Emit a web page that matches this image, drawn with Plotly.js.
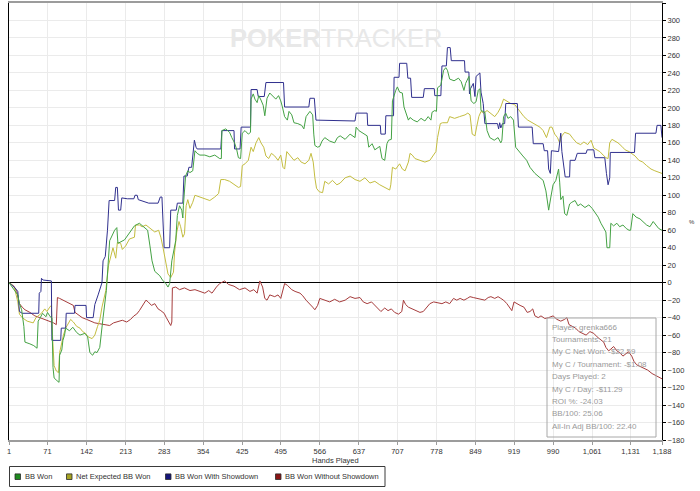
<!DOCTYPE html>
<html>
<head>
<meta charset="utf-8">
<script src="https://cdn.plot.ly/plotly-3.0.1.min.js"></script>
<style>
  html, body { margin: 0; padding: 0; background: #ffffff; }
  #chart { width: 700px; height: 491px; }
</style>
</head>
<body>
<div id="chart"></div>
<script>
// Hands played axis ticks
const handTicks = [1, 71, 142, 213, 283, 354, 425, 495, 566, 637, 707, 778, 849, 919, 990, 1061, 1131, 1188];
const handTickLabels = ['1', '71', '142', '213', '283', '354', '425', '495', '566', '637', '707', '778', '849', '919', '990', '1,061', '1,131', '1,188'];

// BB Won
const bbWonHands = [1, 6, 11, 17, 20, 24, 28, 30, 39, 46, 52, 54, 57, 62, 68, 71, 75, 79, 81, 83, 88, 92, 93, 97, 99, 102, 104, 111, 117, 124, 130, 139, 144, 148, 153, 157, 161, 166, 172, 178, 184, 189, 193, 197, 199, 211, 220, 229, 238, 248, 253, 257, 261, 266, 275, 280, 286, 290, 293, 297, 300, 304, 307, 311, 315, 317, 318, 322, 326, 330, 335, 339, 343, 348, 357, 366, 375, 384, 387, 388, 395, 402, 406, 411, 415, 418, 422, 425, 430, 436, 440, 441, 445, 448, 452, 455, 459, 463, 466, 468, 470, 475, 480, 486, 491, 495, 498, 502, 507, 510, 515, 519, 526, 533, 537, 541, 548, 553, 555, 557, 562, 566, 570, 575, 584, 593, 598, 603, 612, 621, 630, 632, 637, 646, 652, 655, 661, 666, 675, 679, 684, 688, 691, 696, 698, 704, 707, 711, 716, 719, 723, 727, 730, 736, 743, 750, 757, 763, 768, 770, 775, 778, 780, 786, 791, 795, 798, 802, 810, 818, 823, 828, 831, 837, 841, 846, 850, 854, 857, 859, 866, 870, 875, 883, 890, 895, 897, 900, 904, 908, 913, 918, 922, 928, 935, 942, 948, 957, 966, 972, 977, 980, 982, 986, 990, 995, 1000, 1002, 1004, 1008, 1011, 1015, 1020, 1024, 1030, 1035, 1040, 1048, 1055, 1061, 1066, 1072, 1077, 1082, 1086, 1088, 1093, 1095, 1100, 1106, 1111, 1117, 1123, 1128, 1131, 1135, 1141, 1148, 1153, 1160, 1166, 1172, 1177, 1182, 1188];
const bbWonValues = [0, -4, -8, -14, -24, -31, -50, -68, -70, -72, -75, -44, -41, -35, -39, -34, -38, -41, -97, -109, -112, -114, -83, -77, -66, -60, -52, -55, -51, -57, -60, -58, -62, -80, -83, -79, -80, -74, -40, -9, 48, 55, 60, 63, 45, 49, 57, 65, 68, 63, 60, 43, 25, 13, 8, 3, -1, -5, -1, 25, 37, 48, 77, 88, 83, 74, 88, 122, 128, 126, 128, 151, 148, 146, 146, 144, 146, 142, 142, 174, 176, 172, 166, 160, 152, 143, 142, 171, 174, 170, 172, 210, 216, 210, 206, 214, 209, 203, 191, 203, 211, 217, 214, 210, 214, 208, 201, 190, 186, 196, 192, 183, 182, 180, 176, 190, 196, 192, 170, 157, 155, 156, 162, 166, 162, 160, 166, 168, 164, 170, 166, 178, 174, 170, 168, 155, 159, 152, 156, 142, 140, 159, 163, 164, 208, 220, 224, 218, 217, 201, 194, 186, 189, 186, 184, 188, 185, 190, 186, 195, 197, 196, 223, 226, 243, 246, 243, 233, 231, 234, 230, 220, 228, 236, 208, 205, 207, 220, 222, 197, 195, 174, 166, 163, 166, 160, 163, 190, 194, 188, 190, 186, 155, 150, 145, 140, 132, 125, 120, 117, 105, 94, 83, 98, 112, 117, 130, 115, 95, 99, 79, 77, 90, 92, 94, 88, 90, 86, 89, 85, 80, 75, 68, 62, 58, 40, 40, 68, 65, 68, 64, 66, 62, 60, 60, 79, 75, 73, 70, 66, 64, 70, 66, 62, 60];

// Net Expected BB Won
const netExpHands = [1, 6, 11, 17, 20, 25, 34, 45, 50, 55, 60, 66, 70, 75, 78, 80, 83, 87, 91, 93, 96, 100, 104, 108, 113, 118, 124, 130, 135, 140, 145, 152, 157, 162, 166, 170, 177, 182, 186, 190, 195, 198, 204, 207, 213, 220, 229, 231, 238, 243, 250, 257, 266, 273, 277, 281, 286, 290, 295, 300, 302, 306, 310, 313, 317, 320, 323, 326, 330, 335, 339, 348, 357, 366, 375, 382, 386, 393, 402, 411, 418, 422, 425, 430, 436, 441, 445, 450, 455, 459, 464, 468, 473, 478, 484, 490, 495, 499, 502, 506, 511, 519, 526, 532, 539, 546, 550, 554, 557, 560, 565, 571, 575, 582, 589, 597, 603, 612, 621, 630, 639, 648, 657, 666, 675, 681, 688, 693, 695, 698, 704, 711, 716, 721, 727, 730, 734, 739, 748, 757, 766, 772, 777, 780, 785, 789, 798, 802, 811, 820, 830, 835, 839, 843, 848, 851, 855, 859, 864, 870, 877, 884, 890, 895, 900, 906, 913, 920, 925, 930, 937, 944, 952, 959, 966, 972, 978, 984, 988, 993, 998, 1002, 1006, 1011, 1020, 1026, 1033, 1040, 1046, 1053, 1059, 1064, 1070, 1075, 1081, 1086, 1090, 1093, 1097, 1102, 1108, 1115, 1121, 1128, 1133, 1139, 1146, 1153, 1160, 1168, 1175, 1182, 1188];
const netExpValues = [0, -2, -6, -22, -36, -40, -44, -46, -40, -38, -35, -30, -33, -28, -26, -60, -95, -101, -103, -80, -70, -60, -52, -48, -42, -45, -50, -52, -56, -58, -62, -64, -60, -50, -43, -28, -9, 20, 30, 40, 28, 46, 45, 38, 42, 50, 52, 66, 66, 64, 66, 62, 58, 60, 52, 40, 25, 10, 6, 12, 35, 58, 70, 64, 52, 56, 88, 95, 85, 92, 100, 98, 96, 94, 98, 102, 118, 118, 116, 112, 109, 110, 134, 136, 140, 155, 150, 160, 166, 160, 155, 145, 142, 148, 145, 140, 146, 132, 130, 150, 146, 140, 143, 138, 136, 140, 148, 138, 120, 108, 104, 103, 116, 113, 117, 112, 114, 120, 122, 118, 116, 120, 114, 116, 112, 110, 108, 106, 112, 132, 130, 136, 130, 128, 138, 148, 146, 142, 140, 138, 140, 146, 150, 166, 182, 183, 183, 190, 188, 190, 192, 194, 192, 170, 168, 178, 190, 196, 194, 197, 193, 190, 195, 201, 210, 208, 205, 204, 200, 195, 190, 186, 183, 180, 178, 174, 166, 178, 178, 170, 166, 160, 168, 172, 170, 165, 160, 158, 161, 158, 163, 154, 152, 150, 146, 143, 142, 160, 164, 162, 160, 156, 152, 150, 148, 145, 140, 138, 134, 130, 128, 126, 125];

// BB Won With Showdown
const showdownHands = [1, 7, 12, 17, 20, 25, 55, 56, 59, 60, 63, 78, 79, 95, 96, 104, 105, 120, 121, 141, 142, 154, 157, 163, 167, 170, 172, 176, 180, 183, 193, 195, 198, 200, 204, 206, 216, 228, 230, 234, 236, 255, 272, 276, 279, 281, 283, 293, 295, 305, 307, 317, 319, 325, 328, 333, 338, 341, 343, 386, 388, 410, 411, 421, 423, 440, 441, 452, 454, 465, 468, 500, 502, 546, 548, 556, 559, 630, 632, 652, 653, 676, 677, 685, 686, 700, 701, 710, 711, 724, 726, 731, 733, 754, 756, 774, 775, 786, 788, 796, 798, 803, 805, 829, 830, 837, 838, 840, 845, 848, 850, 857, 859, 863, 866, 889, 891, 893, 895, 898, 902, 904, 925, 927, 952, 954, 972, 974, 980, 982, 985, 987, 1000, 1004, 1006, 1012, 1020, 1021, 1030, 1034, 1050, 1052, 1064, 1066, 1084, 1087, 1090, 1093, 1094, 1138, 1140, 1177, 1179, 1186, 1188];
const showdownValues = [0, -3, -6, -10, -33, -35, -35, -12, -10, 5, 3, 2, -66, -66, -52, -52, -35, -35, -26, -26, -40, -40, -25, -14, -5, 0, 25, 30, 60, 94, 94, 109, 109, 83, 83, 97, 96, 96, 100, 100, 95, 91, 91, 98, 98, 60, 40, 40, 83, 83, 91, 91, 122, 122, 132, 132, 163, 155, 153, 153, 174, 174, 153, 153, 178, 178, 221, 221, 213, 213, 229, 229, 201, 201, 211, 211, 186, 185, 194, 194, 180, 180, 170, 170, 191, 191, 235, 235, 251, 251, 234, 234, 212, 212, 222, 222, 214, 214, 248, 248, 269, 269, 254, 254, 241, 241, 216, 222, 228, 213, 236, 240, 218, 205, 182, 182, 176, 183, 177, 182, 182, 205, 205, 178, 178, 159, 159, 151, 151, 130, 125, 151, 150, 171, 150, 121, 121, 140, 140, 148, 148, 152, 152, 143, 143, 125, 112, 120, 149, 149, 171, 171, 180, 180, 166];

// BB Won Without Showdown
const nonShowdownHands = [1, 5, 10, 15, 20, 25, 30, 39, 48, 57, 66, 75, 82, 87, 89, 93, 100, 104, 111, 118, 121, 127, 134, 142, 150, 157, 166, 175, 184, 191, 198, 207, 215, 222, 228, 233, 238, 245, 250, 254, 260, 266, 272, 277, 283, 287, 292, 295, 297, 298, 304, 311, 320, 330, 339, 348, 357, 364, 370, 378, 384, 393, 400, 410, 420, 430, 439, 446, 452, 457, 462, 466, 470, 475, 484, 490, 495, 502, 507, 515, 521, 530, 535, 541, 548, 553, 557, 562, 566, 575, 584, 593, 602, 612, 621, 630, 639, 645, 652, 660, 666, 671, 677, 684, 690, 696, 702, 709, 715, 718, 722, 727, 734, 741, 748, 754, 760, 766, 773, 780, 788, 795, 802, 809, 815, 821, 828, 834, 839, 845, 852, 859, 866, 872, 877, 884, 890, 895, 900, 906, 910, 915, 919, 924, 930, 937, 943, 948, 953, 957, 963, 968, 975, 982, 990, 997, 1004, 1011, 1015, 1019, 1024, 1031, 1037, 1044, 1050, 1057, 1064, 1070, 1077, 1082, 1086, 1091, 1095, 1100, 1106, 1111, 1117, 1122, 1127, 1133, 1137, 1142, 1148, 1155, 1162, 1170, 1177, 1183, 1188];
const nonShowdownValues = [0, -2, -4, -10, -24, -28, -31, -34, -38, -40, -42, -44, -46, -48, -17, -18, -20, -22, -24, -26, -34, -37, -40, -42, -44, -46, -47, -48, -49, -46, -45, -43, -45, -42, -38, -36, -32, -25, -20, -22, -26, -24, -30, -32, -35, -40, -46, -49, -45, -6, -5, -8, -6, -9, -8, -10, -12, -9, -12, -5, -1, 2, -2, -4, -8, -6, -10, -8, -12, 2, -5, -18, -20, -14, -16, -14, -18, -1, -3, -8, -10, -12, -15, -20, -24, -28, -31, -26, -18, -20, -22, -19, -22, -20, -16, -18, -17, -22, -24, -22, -26, -30, -33, -29, -32, -30, -34, -36, -33, -20, -25, -28, -30, -32, -34, -33, -28, -24, -22, -23, -24, -22, -24, -18, -20, -18, -20, -18, -16, -17, -18, -19, -20, -17, -16, -18, -16, -18, -20, -24, -28, -32, -22, -24, -26, -28, -34, -33, -30, -38, -40, -38, -41, -40, -38, -42, -44, -42, -40, -48, -50, -52, -56, -58, -60, -56, -58, -62, -66, -68, -74, -78, -76, -73, -78, -80, -84, -82, -79, -84, -90, -94, -96, -98, -100, -104, -106, -108, -110];

// Summary block
const infoLines = [
  'Player: grenka666',
  'Tournaments: 21',
  'My C Net Won: -$22.59',
  'My C / Tournament: -$1.08',
  'Days Played: 2',
  'My C / Day: -$11.29',
  'ROI %: -24.03',
  'BB/100: 25.06',
  'All-In Adj BB/100: 22.40'
];

const seriesNames = ['BB Won', 'Net Expected BB Won', 'BB Won With Showdown', 'BB Won Without Showdown'];
const lineColors = ['#44a244', '#c4bd40', '#30308e', '#a63c3c'];
const swatchColors = ['#1e8a1e', '#a6a323', '#14147a', '#8a1414'];
const seriesX = [bbWonHands, netExpHands, showdownHands, nonShowdownHands];
const seriesY = [bbWonValues, netExpValues, showdownValues, nonShowdownValues];

const FONT = 'Liberation Sans, Arial, sans-serif';
const traces = [];
// draw order: without showdown, net expected, with showdown, bb won on top
[3, 1, 2, 0].forEach(function (i) {
  traces.push({
    type: 'scatter', mode: 'lines', name: seriesNames[i],
    x: seriesX[i], y: seriesY[i],
    line: { color: lineColors[i], width: 1 },
    showlegend: false, hoverinfo: 'skip'
  });
});

// plot-area geometry (pixels)
const L = 9, R = 662, T = 3, B = 440;
const W = R - L, H = B - T;
const px = function (x) { return (x - L) / W; };
const py = function (y) { return (B - y) / H; };

const annotations = [
  { text: 'Hands Played', xref: 'paper', yref: 'paper', x: px(336), y: py(460), xanchor: 'center', yanchor: 'middle', showarrow: false, font: { family: FONT, size: 7.5, color: '#333333' } },
  { text: '%', xref: 'paper', yref: 'paper', x: px(692), y: py(222), xanchor: 'center', yanchor: 'middle', showarrow: false, font: { family: FONT, size: 6, color: '#333333' } },
  { text: '<b>POKER</b>TRACKER', xref: 'paper', yref: 'paper', x: px(337), y: py(38), xanchor: 'center', yanchor: 'middle', showarrow: false, font: { family: FONT, size: 25.5, color: '#e8e8e8' } }
];
infoLines.forEach(function (line, i) {
  annotations.push({
    text: line, xref: 'paper', yref: 'paper', x: px(550), y: py(327 + 12.4 * i),
    xanchor: 'left', yanchor: 'middle', showarrow: false,
    font: { family: FONT, size: 8, color: '#9a9a9a' }
  });
});

// legend row below the axis: swatch + label per series
const legendSwatchX = [15, 66.5, 165.5, 275.5];
const legendTextX = [23, 74, 173, 283];
const legendY = 476.7;
const shapes = [
  { type: 'rect', xref: 'paper', yref: 'paper', x0: px(547), x1: px(656), y0: py(437), y1: py(318), line: { color: '#a8a8a8', width: 1 }, fillcolor: 'rgba(0,0,0,0)', layer: 'above' },
  { type: 'rect', xref: 'paper', yref: 'paper', x0: px(9.5), x1: px(385), y0: py(486.5), y1: py(466.5), line: { color: '#3a3a3a', width: 1 }, fillcolor: 'rgba(0,0,0,0)' }
];
seriesNames.forEach(function (name, i) {
  shapes.push({
    type: 'rect', xref: 'paper', yref: 'paper',
    x0: px(legendSwatchX[i]), x1: px(legendSwatchX[i] + 5.5),
    y0: py(legendY + 2.8), y1: py(legendY - 2.8),
    line: { color: '#2a2a2a', width: 0.8 }, fillcolor: swatchColors[i]
  });
  annotations.push({
    text: name, xref: 'paper', yref: 'paper', x: px(legendTextX[i]), y: py(legendY),
    xanchor: 'left', yanchor: 'middle', showarrow: false,
    font: { family: FONT, size: 7.5, color: '#333333' }
  });
});

const layout = {
  width: 700, height: 491,
  margin: { l: L, r: 700 - R, t: T, b: 491 - B, pad: 0 },
  paper_bgcolor: '#ffffff', plot_bgcolor: '#ffffff',
  showlegend: false,
  xaxis: {
    range: [1, 1188], tickmode: 'array', tickvals: handTicks, ticktext: handTickLabels,
    showgrid: true, gridcolor: '#ebebeb', gridwidth: 1, zeroline: false,
    showline: true, linecolor: '#9c9c9c', linewidth: 2, mirror: true,
    ticks: 'outside', ticklen: 3, tickcolor: '#9c9c9c',
    tickfont: { family: FONT, size: 7.5, color: '#333333' }, automargin: false
  },
  yaxis: {
    side: 'right', range: [-180, 320], dtick: 20, tick0: 0,
    showgrid: true, gridcolor: '#ebebeb', gridwidth: 1,
    zeroline: true, zerolinecolor: '#000000', zerolinewidth: 1,
    showline: true, linecolor: '#000000', linewidth: 1, mirror: true,
    ticks: 'outside', ticklen: 3, tickcolor: '#000000',
    tickfont: { family: FONT, size: 7.5, color: '#333333' }, automargin: false
  },
  shapes: shapes,
  annotations: annotations
};

Plotly.newPlot('chart', traces, layout, { staticPlot: true, displayModeBar: false });
</script>
</body>
</html>
